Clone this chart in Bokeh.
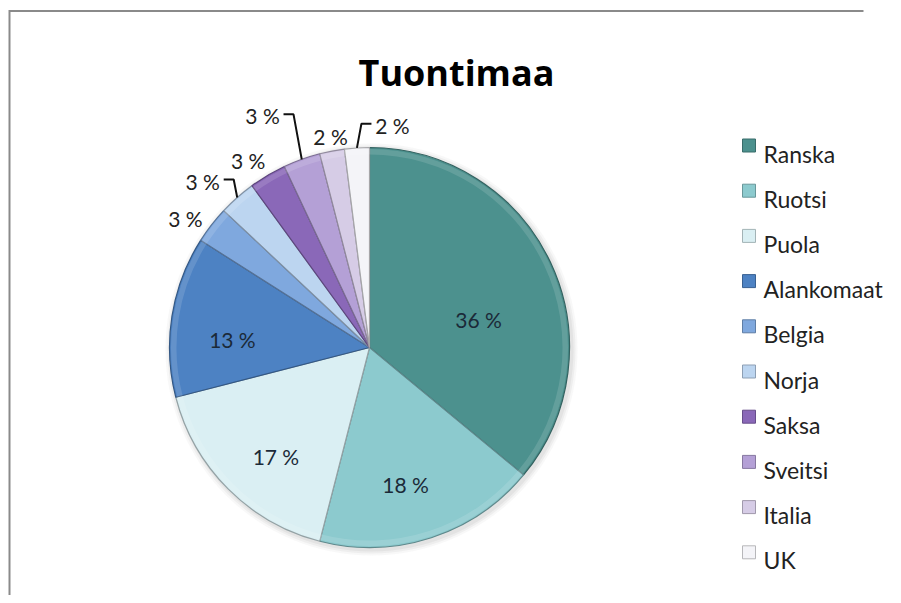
import numpy as np
from bokeh.plotting import figure
from bokeh.models import Range1d, ColumnDataSource
from bokeh.embed import file_html
from bokeh.resources import INLINE
from bokeh.core.properties import value

# ---------------- data ----------------
title = "Tuontimaa"
countries = ["Ranska", "Ruotsi", "Puola", "Alankomaat", "Belgia",
             "Norja", "Saksa", "Sveitsi", "Italia", "UK"]
shares = [36, 18, 17, 13, 3, 3, 3, 3, 2, 2]

# ---------------- style / layout ----------------
colors = ["#4C918E", "#8CCACE", "#DAEFF3", "#4D82C3", "#7FA8DE",
          "#BCD5F0", "#8A68B8", "#B4A0D6", "#D6CCE6", "#F4F4F8"]
FONT = "Lato"
TITLE_FONT = "Open Sans"
W, H = 893, 595


def sy(y):  # picture y -> data y
    return H - y


CX, CY, R = 369, 347, 200
# label placement per slice: (radius factor, angle offset in degrees, leader side)
label_place = [(0.574, 7, 0), (0.67, 2.4, 0), (0.69, -2.3, 0), (0.69, -2.4, 0),
               (1.145, -1.3, 0), (1.205, -2.4, -1), (1.145, -1.4, 0),
               (1.31, -4.3, -1), (1.11, 0.7, 0), (1.155, 9.3, 1)]
LABEL_SIZE = 21
LEG_X, LEG_Y0, LEG_DY = 748.5, 145, 45.2


def darker(hexc, f=0.68):
    h = hexc.lstrip("#")
    r, g, b = (int(h[i:i + 2], 16) for i in (0, 2, 4))
    return "#%02x%02x%02x" % (int(r * f), int(g * f), int(b * f))


vals = np.array(shares, dtype=float)
frac = vals / vals.sum()
c1 = np.cumsum(frac)
c0 = c1 - frac
start = np.pi / 2 - 2 * np.pi * c0
end = np.pi / 2 - 2 * np.pi * c1
mid_deg = (c0 + c1) / 2 * 360.0  # clockwise from top

p = figure(width=W, height=H, output_backend="svg", toolbar_location=None,
           x_range=Range1d(0, W), y_range=Range1d(0, H),
           min_border=0, outline_line_color=None)
p.axis.visible = False
p.grid.visible = False
p.background_fill_color = "white"
p.border_fill_color = "white"

# chart frame (only left/top edges visible in the window)
p.line(x=[9, 9, W - 30], y=[0, sy(10.5), sy(10.5)], line_color="#8a8a8a",
       line_width=2, line_join="miter")

# soft shadow
for k, a in [(6, 0.05), (4, 0.07), (2, 0.09)]:
    p.circle(x=CX + 2, y=sy(CY + 2), radius=R + k, fill_color="#777777",
             fill_alpha=a, line_color=None)

src = ColumnDataSource(dict(start=start, end=end, color=colors,
                            edge=[darker(c) for c in colors], name=countries))
p.wedge(x=CX, y=sy(CY), radius=R, start_angle="start", end_angle="end",
        direction="clock", fill_color="color", line_color="edge",
        line_width=1.2, source=src)
# subtle bevel highlight near rim
p.annular_wedge(x=CX, y=sy(CY), inner_radius=R - 7, outer_radius=R - 1.5,
                start_angle="start", end_angle="end", direction="clock",
                fill_color="white", fill_alpha=0.13, line_color=None, source=src)

# labels
lx, ly, ltxt, lcol = [], [], [], []
seg_x, seg_y = [], []
for i, v in enumerate(shares):
    rf, off, side = label_place[i]
    ang = np.radians(mid_deg[i] + off)
    x = CX + rf * R * np.sin(ang)
    y = CY - rf * R * np.cos(ang)
    lx.append(x)
    ly.append(sy(y + 0.36 * LABEL_SIZE))
    ltxt.append(f"{v} %")
    lcol.append("#1b2a38" if rf < 1 else "#222222")
    if side != 0:
        a0 = np.radians(mid_deg[i])
        ex = CX + R * np.sin(a0)
        ey = CY - R * np.cos(a0)
        endx = x - side * 21
        elbx = endx - side * 10
        ely = y + 6
        seg_x.append([ex, elbx, endx])
        seg_y.append([sy(ey), sy(ely), sy(ely)])

p.multi_line(xs=seg_x, ys=seg_y, line_color="#111111", line_width=2)
p.text(x=lx, y=ly, text=ltxt, text_align="center", text_baseline="alphabetic",
       text_font=value(FONT), text_font_size=f"{LABEL_SIZE}px", text_color=lcol)

# title
p.text(x=[456], y=[sy(72)], text=[title], text_align="center",
       text_baseline="alphabetic", text_font=value(TITLE_FONT),
       text_font_size="36px", text_font_style="bold", text_color="#000000")

# legend
n = len(countries)
leg_y = [LEG_Y0 + i * LEG_DY for i in range(n)]
p.rect(x=[LEG_X] * n, y=[sy(y) for y in leg_y], width=13, height=13,
       fill_color=colors, line_color=[darker(c, 0.75) for c in colors], line_width=1)
p.text(x=[LEG_X + 14.5] * n, y=[sy(y + 8) for y in leg_y], text=countries,
       text_align="left", text_baseline="alphabetic", text_font=value(FONT),
       text_font_size="23px", text_color="#222222")

open("out.html", "w").write(file_html(p, INLINE))
